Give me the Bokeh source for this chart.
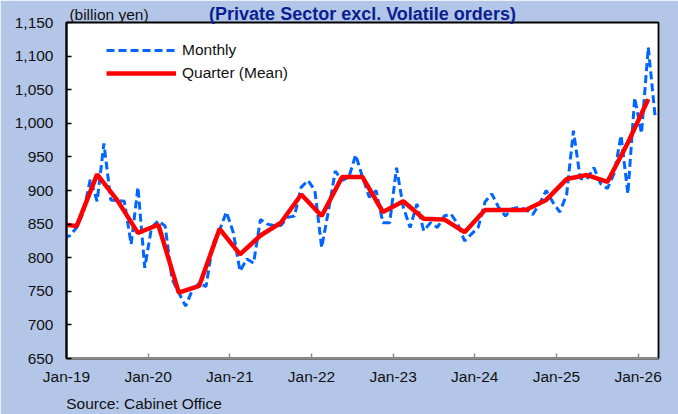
import numpy as np
from bokeh.plotting import figure
from bokeh.models import (Range1d, FixedTicker, NumeralTickFormatter, Legend, LegendItem,
                          LinearAxis)
from bokeh.embed import file_html
from bokeh.resources import INLINE

# ---- data (billion yen) ----
# monthly values, Dec-18 .. Mar-26
monthly_2018 = [829]
monthly_2019 = [833, 845, 868, 917, 884, 970, 886, 885, 884, 820, 905, 785]
monthly_2020 = [845, 855, 847, 768, 748, 728, 752, 762, 757, 820, 841, 868]
monthly_2021 = [838, 780, 798, 792, 857, 850, 848, 848, 860, 862, 905, 915]
monthly_2022 = [900, 815, 870, 929, 915, 920, 953, 920, 890, 900, 852, 852]
monthly_2023 = [934, 875, 845, 880, 840, 852, 845, 862, 865, 850, 825, 835]
monthly_2024 = [845, 883, 895, 875, 862, 873, 875, 872, 864, 880, 900, 882]
monthly_2025 = [868, 894, 989, 918, 917, 934, 910, 903, 926, 982, 895, 1038]
monthly_2026 = [985, 1113, 1010]

# quarterly means, Q4-18 .. Q1-26
quarter_2018 = [851]
quarter_2019 = [847, 924, 885, 837]
quarter_2020 = [849, 748, 758, 843]
quarter_2021 = [805, 833, 852, 894]
quarter_2022 = [862, 920, 920, 868]
quarter_2023 = [884, 858, 857, 838]
quarter_2024 = [871, 871, 871, 886]
quarter_2025 = [917, 923, 913, 971]
quarter_2026 = [1036]

x_tick_labels = ["Jan-19", "Jan-20", "Jan-21", "Jan-22", "Jan-23", "Jan-24", "Jan-25", "Jan-26"]
series_names = ["Monthly", "Quarter (Mean)"]
title_text = "(Private Sector excl. Volatile orders)"
unit_text = "(billion yen)"
source_text = "Source: Cabinet Office"

monthly = (monthly_2018 + monthly_2019 + monthly_2020 + monthly_2021 + monthly_2022
           + monthly_2023 + monthly_2024 + monthly_2025 + monthly_2026)
quarterly = (quarter_2018 + quarter_2019 + quarter_2020 + quarter_2021 + quarter_2022
             + quarter_2023 + quarter_2024 + quarter_2025 + quarter_2026)

# month index axis: 0 = start of Jan-19; points at mid-month / mid-quarter
mx = np.arange(len(monthly)) - 1 + 0.5
qx = np.arange(len(quarterly)) * 3 - 3 + 1.5

FONT = "Liberation Sans"
FS = "15.5px"
TXT = "#111111"

p = figure(width=678, height=414, output_backend="svg", toolbar_location=None,
           x_range=Range1d(0, 87), y_range=Range1d(650, 1150),
           min_border_left=66, min_border_right=20, min_border_top=22, min_border_bottom=56)
p.title.visible = False
p.background_fill_color = "white"
p.border_fill_color = "#b4c6e8"
p.outline_line_color = "black"
p.outline_line_width = 1.8
p.xgrid.visible = False
p.ygrid.visible = False

# x axis
p.xaxis.ticker = FixedTicker(ticks=[12 * i for i in range(len(x_tick_labels))])
p.xaxis.major_label_overrides = {12 * i: lab for i, lab in enumerate(x_tick_labels)}
p.xaxis.axis_line_color = "#8c8c8c"
p.xaxis.axis_line_width = 2
p.xaxis.major_tick_line_color = "#8c8c8c"
p.xaxis.major_tick_line_width = 1.5
p.xaxis.major_tick_in = 5
p.xaxis.major_tick_out = 0
p.xaxis.minor_tick_line_color = None
p.xaxis.major_label_standoff = 9

# y axis
p.yaxis.ticker = FixedTicker(ticks=list(range(650, 1151, 50)))
p.yaxis.formatter = NumeralTickFormatter(format="0,0")
p.yaxis.axis_line_color = "black"
p.yaxis.axis_line_width = 2
p.yaxis.major_tick_line_color = "black"
p.yaxis.major_tick_line_width = 1.5
p.yaxis.major_tick_in = 5
p.yaxis.major_tick_out = 0
p.yaxis.minor_tick_line_color = None
p.yaxis.major_label_standoff = 13

for ax in (p.xaxis, p.yaxis):
    ax.major_label_text_font = FONT
    ax.major_label_text_font_size = FS
    ax.major_label_text_color = TXT

# text-only axes for unit label + title (top) and source note (bottom)
unit_pos = 6.25
top_ax = LinearAxis(ticker=FixedTicker(ticks=[unit_pos]),
                    major_label_overrides={unit_pos: unit_text},
                    axis_label=title_text)
top_ax.axis_line_color = None
top_ax.major_tick_line_color = None
top_ax.minor_tick_line_color = None
top_ax.major_tick_in = 0
top_ax.major_tick_out = 0
top_ax.major_label_standoff = 0
top_ax.major_label_text_font = FONT
top_ax.major_label_text_font_size = FS
top_ax.major_label_text_color = TXT
top_ax.axis_label_text_font = FONT
top_ax.axis_label_text_font_size = "18px"
top_ax.axis_label_text_font_style = "bold"
top_ax.axis_label_text_color = "#0a1f8f"
top_ax.axis_label_standoff = -21
p.add_layout(top_ax, "above")

src_pos = 11.4
src_ax = LinearAxis(ticker=FixedTicker(ticks=[src_pos]),
                    major_label_overrides={src_pos: source_text})
src_ax.axis_line_color = None
src_ax.major_tick_line_color = None
src_ax.minor_tick_line_color = None
src_ax.major_tick_in = 0
src_ax.major_tick_out = 0
src_ax.major_label_standoff = 7
src_ax.major_label_text_font = FONT
src_ax.major_label_text_font_size = FS
src_ax.major_label_text_color = TXT
p.add_layout(src_ax, "below")

r_m = p.line(mx, monthly, line_color="#0066ff", line_width=3, line_dash="8 4")
r_q = p.line(qx, quarterly, line_color="#ff0000", line_width=4.5)

legend = Legend(items=[LegendItem(label=series_names[0], renderers=[r_m]),
                       LegendItem(label=series_names[1], renderers=[r_q])],
                location=(40, 275), glyph_width=70, glyph_height=20, label_height=20,
                spacing=3, padding=0, margin=0, label_standoff=6,
                border_line_color=None, background_fill_alpha=0,
                label_text_font=FONT, label_text_font_size=FS, label_text_color=TXT)
p.add_layout(legend)

open("out.html", "w").write(file_html(p, INLINE))
